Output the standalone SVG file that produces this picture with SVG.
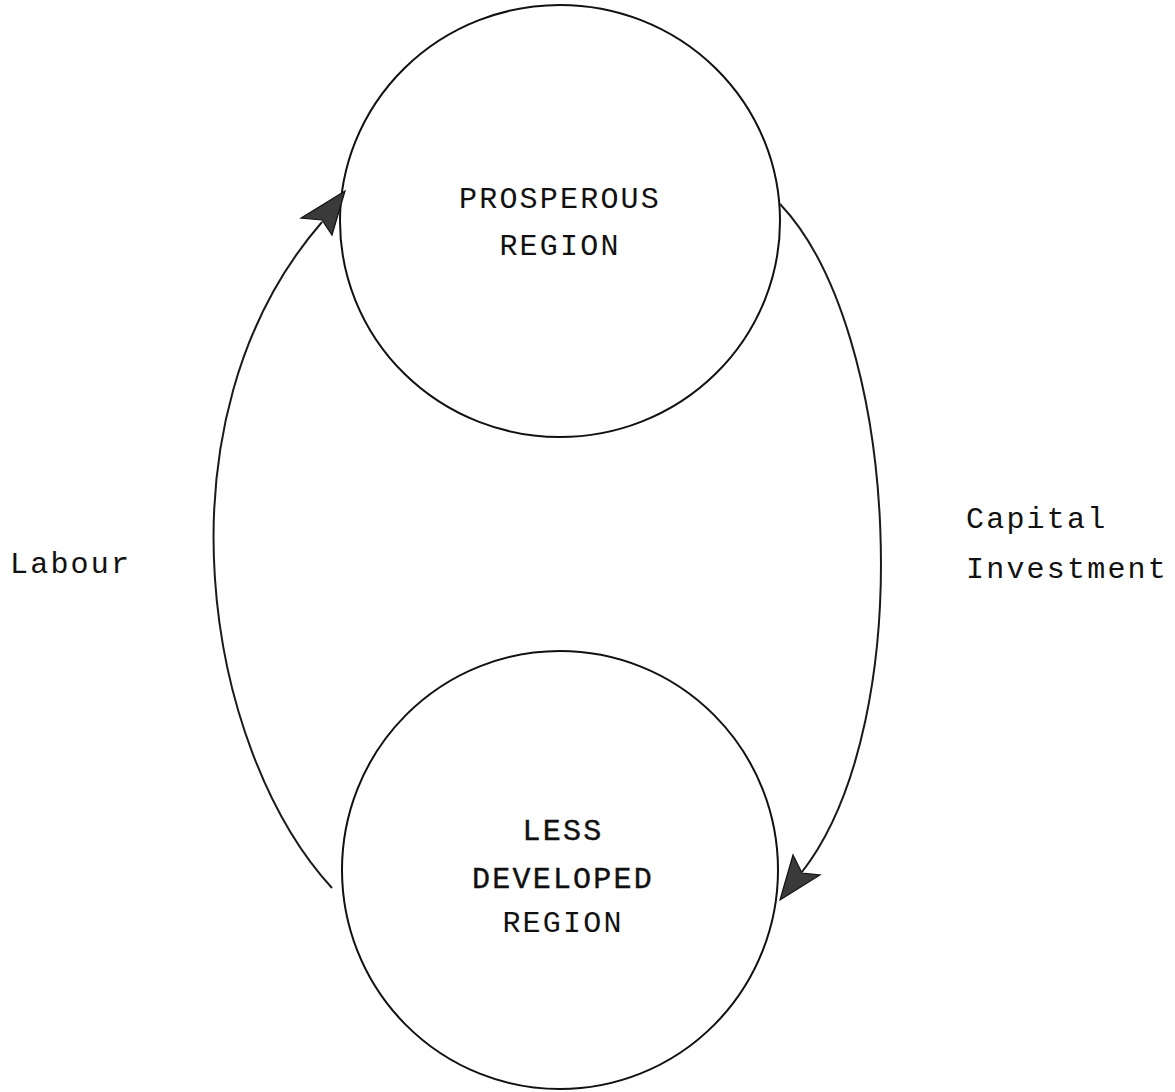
<svg xmlns="http://www.w3.org/2000/svg" width="1175" height="1092" viewBox="0 0 1175 1092">
<style>
.node{fill:none;stroke:#111;stroke-width:2}
.conn{fill:none;stroke:#1a1a1a;stroke-width:2}
.head{fill:#3a3a3a;stroke:#111;stroke-width:1.2;stroke-linejoin:miter}
text{font-family:"Liberation Mono","DejaVu Sans Mono",monospace;font-size:30px;fill:#111;letter-spacing:2.2px}
.c{text-anchor:middle}
.b{stroke:#111;stroke-width:0.4}
</style>
<rect width="1175" height="1092" fill="#fff"/>
<g id="prosperous">
<ellipse class="node" cx="560" cy="221" rx="220" ry="216"/>
<text class="c" x="560" y="208">PROSPEROUS</text>
<text class="c" x="560" y="255">REGION</text>
</g>
<g id="less-developed">
<ellipse class="node" cx="560" cy="870" rx="218" ry="219"/>
<text class="c b" x="563" y="840">LESS</text>
<text class="c b" x="563" y="888">DEVELOPED</text>
<text class="c" x="563" y="932">REGION</text>
</g>
<g id="connectors">
<path class="conn" d="M332,888 C205,750 150,420 322,222"/>
<path class="head" d="M345,191 L301,218 L322,220 L332,235 Z"/>
<path class="conn" d="M780,204 C900,330 920,720 802,872"/>
<path class="head" d="M780,900 L793,855 L802,873 L820,875 Z"/>
</g>
<g id="labels">
<text x="10" y="573">Labour</text>
<text x="966" y="528">Capital</text>
<text x="966" y="578">Investment</text>
</g>
</svg>
